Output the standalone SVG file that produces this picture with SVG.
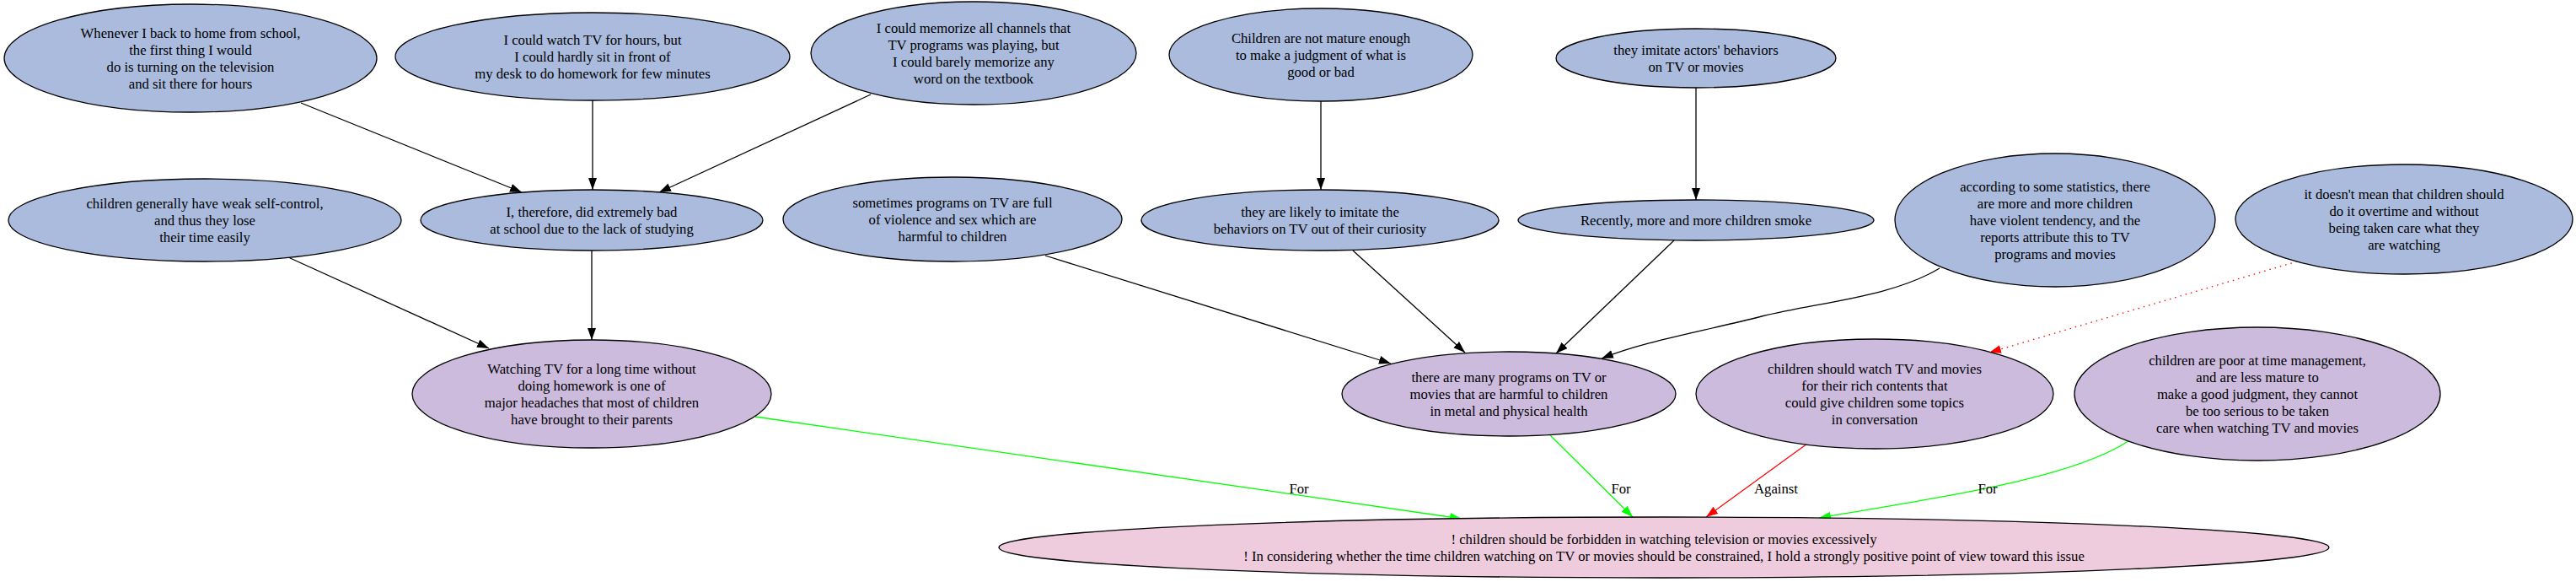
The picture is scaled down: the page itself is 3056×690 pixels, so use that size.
<svg xmlns="http://www.w3.org/2000/svg" width="3056" height="690" viewBox="0 0 3056 690">
<style>
.n ellipse{stroke:#000;stroke-width:1.3}
.b{fill:#aabbdd}
.p{fill:#ccbbdd}
.k{fill:#eeccdd}
text{font-family:"Liberation Serif","Times New Roman",serif;font-size:16.7px;fill:#000;text-anchor:middle}
.e{fill:none;stroke-width:1.3}
.blk{stroke:#000;marker-end:url(#ab)}
.grn{stroke:#00ff00;marker-end:url(#ag)}
.red{stroke:#ff0000;marker-end:url(#ar)}
.dot{stroke-dasharray:1.5,5}
</style>
<defs>
<marker id="ab" markerUnits="userSpaceOnUse" markerWidth="16" markerHeight="12" refX="14" refY="5" orient="auto"><path d="M0,0 L14,5 L0,10 z" fill="#000"/></marker>
<marker id="ag" markerUnits="userSpaceOnUse" markerWidth="16" markerHeight="12" refX="14" refY="5" orient="auto"><path d="M0,0 L14,5 L0,10 z" fill="#00ff00"/></marker>
<marker id="ar" markerUnits="userSpaceOnUse" markerWidth="16" markerHeight="12" refX="14" refY="5" orient="auto"><path d="M0,0 L14,5 L0,10 z" fill="#ff0000"/></marker>
</defs>
<rect width="3056" height="690" fill="#fff"/>
<g id="edges">
<path class="e blk" d="M357,122 L619,228"/>
<path class="e blk" d="M703,119 L703,225"/>
<path class="e blk" d="M1033,112 L782,228"/>
<path class="e blk" d="M1567,120 L1567,225"/>
<path class="e blk" d="M2012,104 L2012,237"/>
<path class="e blk" d="M342,305 L580,413"/>
<path class="e blk" d="M702,297 L702,403"/>
<path class="e blk" d="M1240,303 L1650,431"/>
<path class="e blk" d="M1605,297 L1738,418"/>
<path class="e blk" d="M1986,285 L1846,419"/>
<path class="e blk" d="M2301,318 C2245,352 2160,358 2090,375 C2010,395 1950,405 1900,425"/>
<path class="e red dot" d="M2725,310 L2360,418"/>
<path class="e grn" d="M896,494 L1734,615"/>
<path class="e grn" d="M1839,516 L1937,613"/>
<path class="e red" d="M2144,526 L2024,613"/>
<path class="e grn" d="M2525,523 C2460,565 2330,585 2158,614"/>
<text x="1541" y="585">For</text>
<text x="1923" y="585">For</text>
<text x="2107" y="585">Against</text>
<text x="2358" y="585">For</text>
</g>
<g id="nA" class="n"><ellipse class="b" cx="226" cy="69" rx="221" ry="64"/><text x="226" y="44.5"><tspan x="226">Whenever I back to home from school,</tspan><tspan x="226" dy="20">the first thing I would</tspan><tspan x="226" dy="20">do is turning on the television</tspan><tspan x="226" dy="20">and sit there for hours</tspan></text></g>
<g id="nB" class="n"><ellipse class="b" cx="703" cy="67" rx="234" ry="52"/><text x="703" y="52.5"><tspan x="703">I could watch TV for hours, but</tspan><tspan x="703" dy="20">I could hardly sit in front of</tspan><tspan x="703" dy="20">my desk to do homework for few minutes</tspan></text></g>
<g id="nC" class="n"><ellipse class="b" cx="1155" cy="63" rx="193" ry="61"/><text x="1155" y="38.5"><tspan x="1155">I could memorize all channels that</tspan><tspan x="1155" dy="20">TV programs was playing, but</tspan><tspan x="1155" dy="20">I could barely memorize any</tspan><tspan x="1155" dy="20">word on the textbook</tspan></text></g>
<g id="nD" class="n"><ellipse class="b" cx="1567" cy="65" rx="180" ry="55"/><text x="1567" y="50.5"><tspan x="1567">Children are not mature enough</tspan><tspan x="1567" dy="20">to make a judgment of what is</tspan><tspan x="1567" dy="20">good or bad</tspan></text></g>
<g id="nE" class="n"><ellipse class="b" cx="2012" cy="69" rx="166" ry="35"/><text x="2012" y="64.5"><tspan x="2012">they imitate actors' behaviors</tspan><tspan x="2012" dy="20">on TV or movies</tspan></text></g>
<g id="nF" class="n"><ellipse class="b" cx="243" cy="261" rx="233" ry="49"/><text x="243" y="246.5"><tspan x="243">children generally have weak self-control,</tspan><tspan x="243" dy="20">and thus they lose</tspan><tspan x="243" dy="20">their time easily</tspan></text></g>
<g id="nG" class="n"><ellipse class="b" cx="702" cy="261" rx="203" ry="36"/><text x="702" y="256.5"><tspan x="702">I, therefore, did extremely bad</tspan><tspan x="702" dy="20">at school due to the lack of studying</tspan></text></g>
<g id="nH" class="n"><ellipse class="b" cx="1130" cy="260" rx="201" ry="50"/><text x="1130" y="245.5"><tspan x="1130">sometimes programs on TV are full</tspan><tspan x="1130" dy="20">of violence and sex which are</tspan><tspan x="1130" dy="20">harmful to children</tspan></text></g>
<g id="nI" class="n"><ellipse class="b" cx="1566" cy="261" rx="212" ry="36"/><text x="1566" y="256.5"><tspan x="1566">they are likely to imitate the</tspan><tspan x="1566" dy="20">behaviors on TV out of their curiosity</tspan></text></g>
<g id="nJ" class="n"><ellipse class="b" cx="2012" cy="261" rx="211" ry="24"/><text x="2012" y="266.5">Recently, more and more children smoke</text></g>
<g id="nK" class="n"><ellipse class="b" cx="2438" cy="261" rx="190" ry="79"/><text x="2438" y="226.5"><tspan x="2438">according to some statistics, there</tspan><tspan x="2438" dy="20">are more and more children</tspan><tspan x="2438" dy="20">have violent tendency, and the</tspan><tspan x="2438" dy="20">reports attribute this to TV</tspan><tspan x="2438" dy="20">programs and movies</tspan></text></g>
<g id="nL" class="n"><ellipse class="b" cx="2852" cy="260" rx="200" ry="65"/><text x="2852" y="235.5"><tspan x="2852">it doesn't mean that children should</tspan><tspan x="2852" dy="20">do it overtime and without</tspan><tspan x="2852" dy="20">being taken care what they</tspan><tspan x="2852" dy="20">are watching</tspan></text></g>
<g id="nM" class="n"><ellipse class="p" cx="702" cy="467" rx="213" ry="64"/><text x="702" y="442.5"><tspan x="702">Watching TV for a long time without</tspan><tspan x="702" dy="20">doing homework is one of</tspan><tspan x="702" dy="20">major headaches that most of children</tspan><tspan x="702" dy="20">have brought to their parents</tspan></text></g>
<g id="nN" class="n"><ellipse class="p" cx="1790" cy="467" rx="198" ry="50"/><text x="1790" y="452.5"><tspan x="1790">there are many programs on TV or</tspan><tspan x="1790" dy="20">movies that are harmful to children</tspan><tspan x="1790" dy="20">in metal and physical health</tspan></text></g>
<g id="nO" class="n"><ellipse class="p" cx="2224" cy="467" rx="212" ry="65"/><text x="2224" y="442.5"><tspan x="2224">children should watch TV and movies</tspan><tspan x="2224" dy="20">for their rich contents that</tspan><tspan x="2224" dy="20">could give children some topics</tspan><tspan x="2224" dy="20">in conversation</tspan></text></g>
<g id="nP" class="n"><ellipse class="p" cx="2678" cy="467" rx="217" ry="79"/><text x="2678" y="432.5"><tspan x="2678">children are poor at time management,</tspan><tspan x="2678" dy="20">and are less mature to</tspan><tspan x="2678" dy="20">make a good judgment, they cannot</tspan><tspan x="2678" dy="20">be too serious to be taken</tspan><tspan x="2678" dy="20">care when watching TV and movies</tspan></text></g>
<g id="nQ" class="n"><ellipse class="k" cx="1974" cy="649" rx="789" ry="36"/><text x="1974" y="644.5"><tspan x="1974">! children should be forbidden in watching television or movies excessively</tspan><tspan x="1974" dy="20">! In considering whether the time children watching on TV or movies should be constrained, I hold a strongly positive point of view toward this issue</tspan></text></g>
</svg>
